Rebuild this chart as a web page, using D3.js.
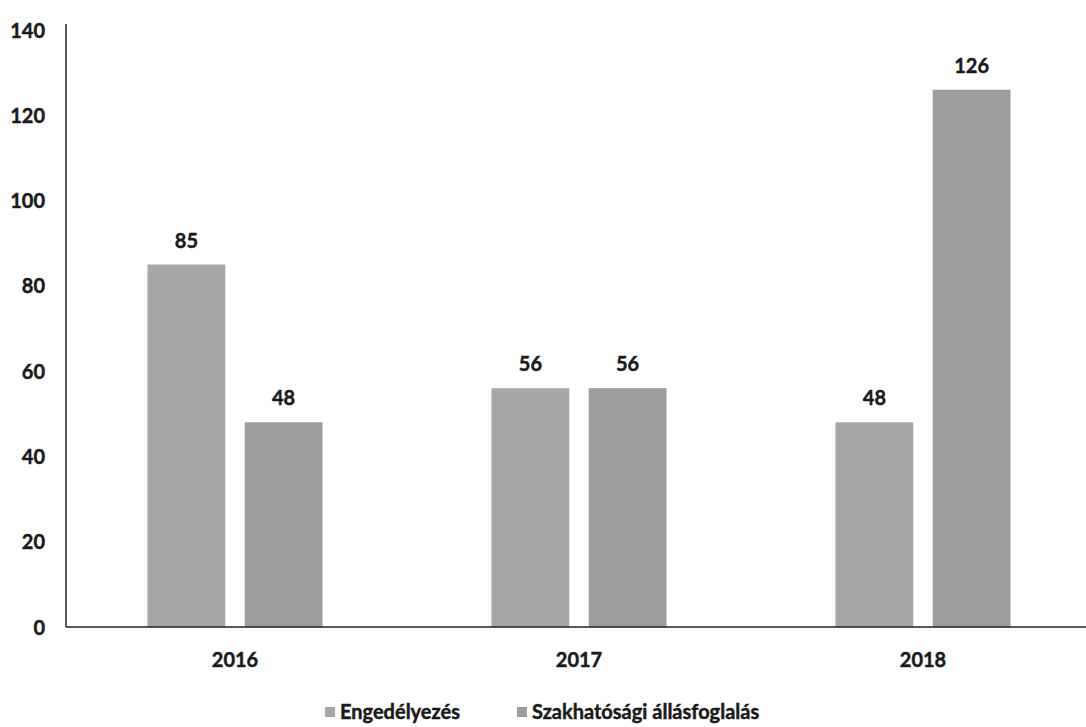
<!DOCTYPE html>
<html><head><meta charset="utf-8">
<script src="https://cdn.jsdelivr.net/npm/d3@7"></script>
<style>body{margin:0;background:#fff}svg{display:block}text{font-family:Lato,"Open Sans",sans-serif;font-weight:700;fill:#1a1a1a;stroke:#1a1a1a;stroke-width:0.45px}</style>
</head><body>
<svg id="c" width="1086" height="727"></svg>
<script>
const categories = ["2016","2017","2018"];
const seriesNames = ["Engedélyezés","Szakhatósági állásfoglalás"];
const engedelyezes = [85,56,48];
const szakhatosagi = [48,56,126];
const yTicks = [0,20,40,60,80,100,120,140];
const colors = ["#a6a6a6","#9d9d9d"];

const svg = d3.select("#c");
const m = {left:66, right:1086, top:30, bottom:627};
const x = d3.scaleBand().domain(categories).range([63, 1095]);
const x1 = d3.scaleBand().domain(seriesNames).range([0,175]).paddingInner(0.2);
const y = d3.scaleLinear().domain([0,140]).range([m.bottom, m.top]);
const series = [engedelyezes, szakhatosagi];
const bx = (i,si)=>x(categories[i]) + (x.bandwidth()-175)/2 + x1(seriesNames[si]);

series.forEach((vals,si)=>{
  svg.append("g").selectAll("rect").data(vals).join("rect")
    .attr("x",(d,i)=>bx(i,si))
    .attr("y",d=>y(d)).attr("width",x1.bandwidth()).attr("height",d=>y(0)-y(d))
    .attr("fill",colors[si]);
  svg.append("g").selectAll("text").data(vals).join("text")
    .attr("x",(d,i)=>bx(i,si) + x1.bandwidth()/2)
    .attr("y",d=>y(d)-17).attr("text-anchor","middle").attr("font-size",20).text(d=>d);
});

const ya = svg.append("g").attr("transform",`translate(${m.left},0)`)
  .call(d3.axisLeft(y).tickValues(yTicks).tickSize(0).tickPadding(21));
ya.select(".domain").attr("stroke","#222").attr("stroke-width",1.5).attr("d",`M0,${m.top-6}V${m.bottom}`);
ya.selectAll("text").attr("font-size",20).attr("font-family","Lato, sans-serif").attr("font-weight",700).attr("fill","#1a1a1a").attr("dy","0.35em");

const xa = svg.append("g").attr("transform",`translate(0,${m.bottom})`)
  .call(d3.axisBottom(x).tickSize(0).tickPadding(26));
xa.select(".domain").attr("stroke","#222").attr("stroke-width",1.5).attr("d",`M${m.left},0H${m.right}`);
xa.selectAll("text").attr("font-size",20).attr("font-family","Lato, sans-serif").attr("font-weight",700).attr("fill","#1a1a1a");

const lg = svg.append("g");
const lx = [325, 517];
seriesNames.forEach((s,i)=>{
  lg.append("rect").attr("x",lx[i]).attr("y",707).attr("width",10).attr("height",10).attr("fill",colors[i]);
  lg.append("text").attr("x",lx[i]+15).attr("y",719).attr("font-size",20).text(s);
});
</script>
</body></html>
